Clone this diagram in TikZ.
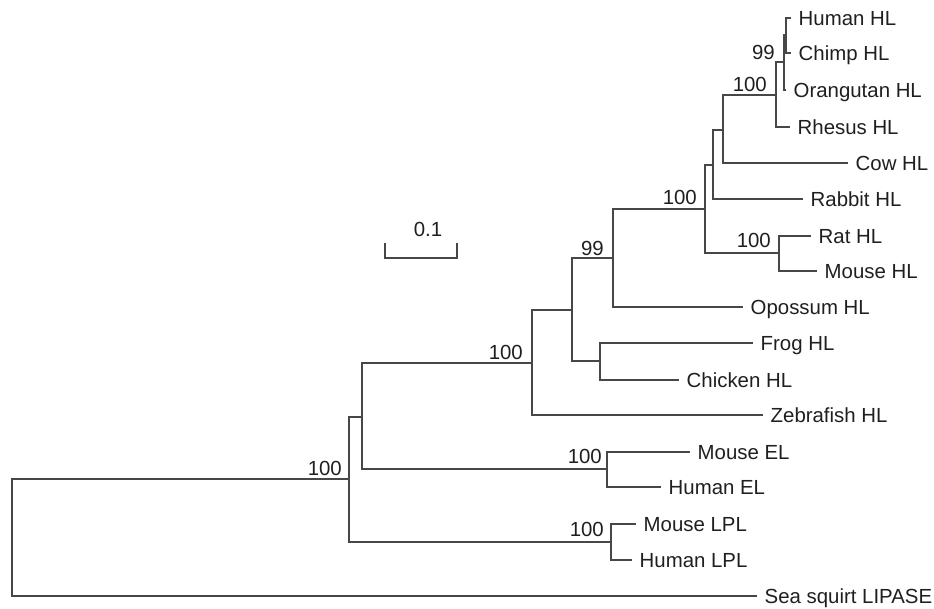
\documentclass[tikz,border=0pt]{standalone}
\usepackage{fontspec}
\setmainfont{Liberation Sans}
\begin{document}
\begin{tikzpicture}[x=1pt,y=-1pt,
  br/.style={draw=black!72, line width=1.5pt},
  lbl/.style={inner sep=0pt, text height=14.6pt, text depth=0pt,
    font=\fontsize{20.4}{24}\selectfont, text=black!88},
  leaf/.style={lbl, anchor=west, inner xsep=7.5pt},
  boot/.style={lbl, anchor=east}]
\useasboundingbox (0,0) rectangle (934,608);
% internal nodes
\coordinate (R)   at (12,538);
\coordinate (A)   at (349,479);
\coordinate (B)   at (362,417);
\coordinate (EL)  at (607,469);
\coordinate (LPL) at (611,542);
\coordinate (C)   at (532,363);
\coordinate (D)   at (572,310);
\coordinate (FC)  at (600,361);
\coordinate (E)   at (613,258);
\coordinate (F)   at (705,209);
\coordinate (RM)  at (779,253);
\coordinate (H)   at (713,165);
\coordinate (I)   at (723,130);
\coordinate (J)   at (776,95);
\coordinate (K)   at (784,62);
\coordinate (L)   at (786,35);
% leaves
\node[leaf] (human)  at (791,18)  {Human HL};
\node[leaf] (chimp)  at (791,53)  {Chimp HL};
\node[leaf] (orang)  at (786,90)  {Orangutan HL};
\node[leaf] (rhesus) at (790,127) {Rhesus HL};
\node[leaf] (cow)    at (848,163) {Cow HL};
\node[leaf] (rabbit) at (803,199) {Rabbit HL};
\node[leaf] (rat)    at (811,236) {Rat HL};
\node[leaf] (mouse)  at (817,271) {Mouse HL};
\node[leaf] (opos)   at (743,307) {Opossum HL};
\node[leaf] (frog)   at (753,343) {Frog HL};
\node[leaf] (chick)  at (679,380) {Chicken HL};
\node[leaf] (zebra)  at (763,415) {Zebrafish HL};
\node[leaf] (mel)    at (690,452) {Mouse EL};
\node[leaf] (hel)    at (661,487) {Human EL};
\node[leaf] (mlpl)   at (636,524) {Mouse LPL};
\node[leaf] (hlpl)   at (632,560) {Human LPL};
\node[leaf] (sea)    at (757,596) {Sea squirt LIPASE};
% branches
\draw[br] (R) |- (A);
\draw[br] (R) |- (sea.west);
\draw[br] (A) |- (B);
\draw[br] (A) |- (LPL);
\draw[br] (LPL) |- (mlpl.west);
\draw[br] (LPL) |- (hlpl.west);
\draw[br] (B) |- (C);
\draw[br] (B) |- (EL);
\draw[br] (EL) |- (mel.west);
\draw[br] (EL) |- (hel.west);
\draw[br] (C) |- (D);
\draw[br] (C) |- (zebra.west);
\draw[br] (D) |- (E);
\draw[br] (D) |- (FC);
\draw[br] (FC) |- (frog.west);
\draw[br] (FC) |- (chick.west);
\draw[br] (E) |- (F);
\draw[br] (E) |- (opos.west);
\draw[br] (F) |- (H);
\draw[br] (F) |- (RM);
\draw[br] (RM) |- (rat.west);
\draw[br] (RM) |- (mouse.west);
\draw[br] (H) |- (I);
\draw[br] (H) |- (rabbit.west);
\draw[br] (I) |- (J);
\draw[br] (I) |- (cow.west);
\draw[br] (J) |- (K);
\draw[br] (J) |- (rhesus.west);
\draw[br] (K) |- (L);
\draw[br] (K) |- (orang.west);
\draw[br] (L) |- (human.west);
\draw[br] (L) |- (chimp.west);
% bootstrap values
\node[boot] (bL)   at (775,52)    {99};
\node[boot] (bJ)   at (767,84.5)  {100};
\node[boot] (bF)   at (697,197.5) {100};
\node[boot] (bE)   at (604,248.5) {99};
\node[boot] (bRM)  at (771,240)   {100};
\node[boot] (bC)   at (523,352.5) {100};
\node[boot] (bA)   at (342,468.5) {100};
\node[boot] (bEL)  at (602,456.5) {100};
\node[boot] (bLPL) at (604,529.5) {100};
% scale bar
\coordinate (s1) at (385,258);
\coordinate (s2) at (457,258);
\coordinate (t1) at (385,243);
\coordinate (t2) at (457,243);
\draw[br] (t1) -- (s1) -- (s2) -- (t2);
\node[lbl] (scl) at (428,229) {0.1};
\end{tikzpicture}
\end{document}
